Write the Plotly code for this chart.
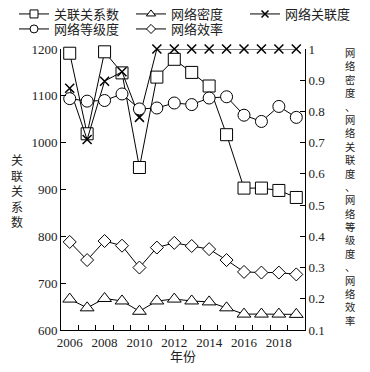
import plotly.graph_objects as go

years = list(range(2006, 2020))
relations = [1191, 1019, 1194, 1149, 947, 1140, 1178, 1150, 1121, 1017, 903, 903, 898, 883]
density = [0.199, 0.171, 0.201, 0.193, 0.160, 0.193, 0.199, 0.193, 0.190, 0.171, 0.151, 0.151, 0.151, 0.150]
connectedness = [0.874, 0.710, 0.897, 0.927, 0.781, 1, 1, 1, 1, 1, 1, 1, 1, 1]
hierarchy = [0.841, 0.833, 0.835, 0.856, 0.808, 0.811, 0.827, 0.822, 0.843, 0.847, 0.788, 0.768, 0.816, 0.781]
efficiency = [0.382, 0.324, 0.385, 0.370, 0.300, 0.364, 0.379, 0.369, 0.359, 0.324, 0.286, 0.284, 0.284, 0.278]

series_names = ["关联关系数", "网络密度", "网络关联度", "网络等级度", "网络效率"]
left_title = "关联关系数"
right_title = "网络密度、网络关联度、网络等级度、网络效率"
x_title = "年份"

FONT = "Liberation Serif, Noto Sans CJK SC, serif"
line = dict(color="black", width=1)


def mk(symbol, size):
    return dict(symbol=symbol, size=size, color="white", line=dict(color="black", width=1))


def xmk(size):
    return dict(symbol="x-thin", size=size, color="black", line=dict(color="black", width=1.5))


series = [
    (relations, "y", mk("square", 12), mk("square", 8)),
    (density, "y2", mk("triangle-up", 12), mk("triangle-up", 8)),
    (connectedness, "y2", xmk(9), xmk(7)),
    (hierarchy, "y2", mk("circle", 12), mk("circle", 8)),
    (efficiency, "y2", mk("diamond", 10), mk("diamond", 7)),
]

fig = go.Figure()
for name, (vals, ax, m, _) in zip(series_names, series):
    fig.add_trace(go.Scatter(x=years, y=vals, name=name, mode="lines+markers",
                             line=line, marker=m, yaxis=ax, showlegend=False,
                             cliponaxis=False))

# legend entries (smaller symbols, like the reference legend)
legend_ids = ["legend", "legend2", "legend3", "legend4", "legend5"]
for name, (vals, ax, _, lm), lid in zip(series_names, series, legend_ids):
    fig.add_trace(go.Scatter(x=[None], y=[None], name=name, mode="lines+markers",
                             line=line, marker=lm, yaxis=ax, showlegend=True, legend=lid))

leg_common = dict(orientation="h", xref="container", yref="container",
                  xanchor="left", yanchor="middle", itemwidth=30,
                  font=dict(size=13, family=FONT, color="#222"),
                  bgcolor="rgba(0,0,0,0)")
row1 = 1 - 14 / 372
row2 = 1 - 29 / 372
legend_pos = [(14, row1), (131, row1), (245, row1), (14, row2), (131, row2)]

layout_legends = {}
for lid, (px, py) in zip(legend_ids, legend_pos):
    layout_legends[lid] = dict(x=px / 370, y=py, **leg_common)

fig.update_layout(
    width=370, height=372,
    margin=dict(l=61, r=65, t=49, b=42, autoexpand=False),
    paper_bgcolor="white", plot_bgcolor="white",
    font=dict(family=FONT, size=13, color="#222"),
    showlegend=True,
    **layout_legends,
    xaxis=dict(range=[2005.5, 2019.5], tickvals=[2006, 2008, 2010, 2012, 2014, 2016, 2018],
               ticks="inside", ticklen=0, showline=True, linecolor="black", linewidth=1,
               showgrid=False, zeroline=False, tickfont=dict(size=13), automargin=False,
               minor=dict(tickvals=[y + 0.5 for y in years[:-1]], ticks="inside",
                          ticklen=5, tickcolor="black", showgrid=False)),
    yaxis=dict(range=[600, 1200], tickvals=[600, 700, 800, 900, 1000, 1100, 1200],
               ticks="inside", ticklen=5, tickcolor="black", showline=True,
               linecolor="black", linewidth=1, showgrid=False, zeroline=False,
               tickfont=dict(size=13), automargin=False),
    yaxis2=dict(range=[0.1, 1.0], overlaying="y", side="right",
                tickvals=[0.1, 0.2, 0.3, 0.4, 0.5, 0.6, 0.7, 0.8, 0.9, 1.0],
                ticktext=["0.1", "0.2", "0.3", "0.4", "0.5", "0.6", "0.7", "0.8", "0.9", "1"],
                ticks="inside", ticklen=5, tickcolor="black", showline=True,
                linecolor="black", linewidth=1, showgrid=False, zeroline=False,
                tickfont=dict(size=13), automargin=False),
)

fig.add_annotation(text="<br>".join(left_title), xref="paper", yref="paper",
                   x=-0.18, y=0.49, showarrow=False, font=dict(size=12, family=FONT, color="#222"),
                   xanchor="center", yanchor="middle")
fig.add_annotation(text="<br>".join(right_title), xref="paper", yref="paper",
                   x=1.184, y=0.507, showarrow=False, font=dict(size=10.3, family=FONT, color="#222"),
                   xanchor="center", yanchor="middle")
fig.add_annotation(text=x_title, xref="paper", yref="paper",
                   x=0.5, y=-0.096, showarrow=False, font=dict(size=13, family=FONT, color="#222"),
                   xanchor="center", yanchor="middle")

fig.write_html("out.html", config={"displayModeBar": False},
               post_script="document.body.style.margin='0px';")
